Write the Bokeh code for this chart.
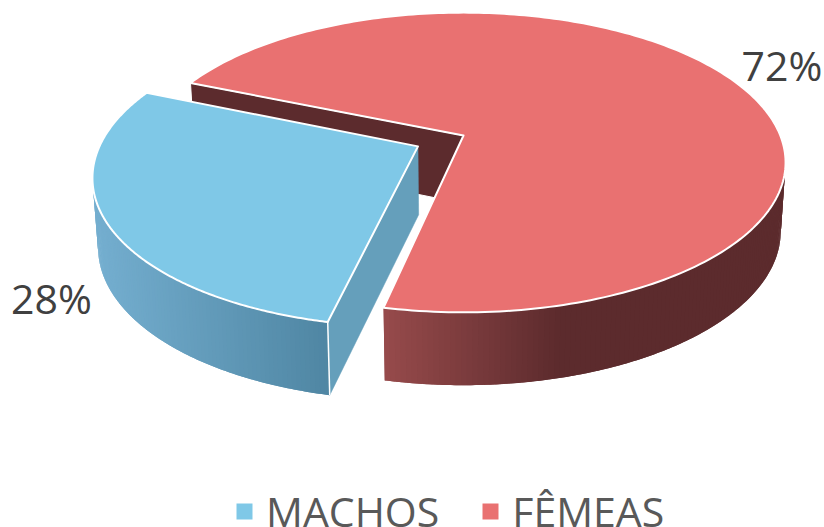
import numpy as np
from bokeh.core.properties import value
from bokeh.embed import file_html
from bokeh.models import Legend, LegendItem, Range1d
from bokeh.plotting import figure
from bokeh.resources import INLINE

categories = ["MACHOS", "FÊMEAS"]
percent = [28, 72]
labels = ["28%", "72%"]

BLUE, RED = "#7FC8E7", "#E97171"
START = 192.0
EXPLODE = 0.16
BLUE_R = 0.992
CX, A, Q = 463.0, 316.8, 0.18
TOP_Y, TOP_B = 135.0, 145.0
BOT_Y, BOT_B, BOT_S = 203.0, 149.0, 0.985


def project(theta, off, level, r=1.0):
    th = np.radians(np.asarray(theta, dtype=float))
    u = r * np.sin(th) + off[0]
    v = r * np.cos(th) + off[1]
    w = 1 + Q * v
    if level == "top":
        return CX + A * u / w, TOP_Y - TOP_B * v / w
    return CX + BOT_S * A * u / w, BOT_Y - BOT_B * v / w


def apex(off, level):
    u, v = off
    w = 1 + Q * v
    if level == "top":
        return CX + A * u / w, TOP_Y - TOP_B * v / w
    return CX + BOT_S * A * u / w, BOT_Y - BOT_B * v / w


def mix(c1, c2, t):
    t = min(max(t, 0.0), 1.0)
    return "#%02x%02x%02x" % tuple(round(a + (b - a) * t) for a, b in zip(c1, c2))


p = figure(width=824, height=527, x_range=Range1d(0, 824), y_range=Range1d(527, 0),
           x_axis_location=None, y_axis_location=None, toolbar_location=None,
           output_backend="svg", min_border=0, outline_line_color=None,
           border_fill_color=None, background_fill_color=None)
p.grid.visible = False

# slice angles from the values
a0 = START
a1 = a0 + percent[0] * 3.6
a2 = a1 + percent[1] * 3.6
mid = np.radians((a0 + a1) / 2)
off_b = (EXPLODE * np.sin(mid), EXPLODE * np.cos(mid))
off_r = (0.0, 0.0)


def side_wall(t0, t1, off, r, left, right, c_left, c_right):
    # t0 is painted first, t1 last; each strip runs on under the next one
    n = 120
    edges = np.linspace(t0, t1, n + 1)
    step = edges[1] - edges[0]
    for i in range(n):
        e0 = edges[i]
        e1 = edges[min(i + 2, n)]
        th = np.linspace(e0, e1, 4)
        xt, yt = project(th, off, "top", r)
        xb, yb = project(th, off, "bot", r)
        col = mix(c_left, c_right, (project([e0 + step / 2], off, "top", r)[0][0] - left) / (right - left))
        p.patch(np.r_[xt, xb[::-1]], np.r_[yt, yb[::-1]], fill_color=col, line_color=None)


def top_face(t0, t1, off, r, col):
    th = np.linspace(t0, t1, 240)
    x, y = project(th, off, "top", r)
    ax, ay = apex(off, "top")
    p.patch(np.r_[ax, x], np.r_[ay, y], fill_color=col, line_color="white", line_width=2, line_join="round")


# red: inner wall, outer wall, top
dark = "#5c2b2d"
ax, ay = apex(off_r, "top")
bx, by = apex(off_r, "bot")
xt, yt = project([a1], off_r, "top")
xb, yb = project([a1], off_r, "bot")
p.patch([xt[0], ax, bx, xb[0]], [yt[0], ay, by, yb[0]], fill_color=dark, line_color="white", line_width=1)
side_wall(a2 - 360 - 100, a2 - 360, off_r, 1.0, 560, 385, (0x5c, 0x2b, 0x2d), (0x96, 0x4a, 0x4b))
top_face(a1, a2, off_r, 1.0, RED)

# blue: flat wall, outer wall, top
ax, ay = apex(off_b, "top")
bx, by = apex(off_b, "bot")
xt, yt = project([a0], off_b, "top", BLUE_R)
xb, yb = project([a0], off_b, "bot", BLUE_R)
p.patch([ax, xt[0], xb[0], bx], [ay, yt[0], yb[0], by], fill_color="#659fbb", line_color="#659fbb", line_width=0.5)
side_wall(a0 + 90, a0, off_b, BLUE_R, 96, 328, (0x74, 0xae, 0xcf), (0x4f, 0x86, 0xa3))
p.line([xt[0], xb[0]], [yt[0], yb[0]], line_color="white", line_width=1.5)
top_face(a0, a1, off_b, BLUE_R, BLUE)

# data labels
p.text([10.5], [297], text=[labels[0]], text_font=value("Open Sans"), text_font_size="41px",
       text_color="#404040", text_baseline="alphabetic", text_align="left")
p.text([741], [64], text=[labels[1]], text_font=value("Open Sans"), text_font_size="41px",
       text_color="#404040", text_baseline="alphabetic", text_align="left")

# legend
r_b = p.scatter([np.nan], [np.nan], marker="square", fill_color=BLUE, line_color=None)
r_r = p.scatter([np.nan], [np.nan], marker="square", fill_color=RED, line_color=None)
legend = Legend(items=[LegendItem(label=categories[0], renderers=[r_b]),
                       LegendItem(label=categories[1], renderers=[r_r])],
                orientation="horizontal", location=(224, -12), padding=0, margin=0,
                glyph_width=40, glyph_height=40, label_standoff=2, spacing=31,
                label_text_font="Open Sans", label_text_font_size="41px",
                label_text_color="#595959", border_line_color=None, background_fill_alpha=0)
p.add_layout(legend, "center")

open("out.html", "w").write(file_html(p, INLINE))
